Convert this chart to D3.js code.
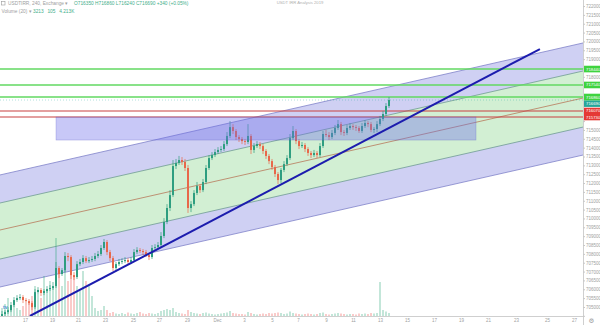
<!DOCTYPE html>
<html>
<head>
<meta charset="utf-8">
<script src="https://cdn.jsdelivr.net/npm/d3@7"></script>
<style>
body { margin: 0; background: #fff; overflow: hidden; }
svg { display: block; font-family: "Liberation Sans", Arial, sans-serif; }
</style>
</head>
<body>
<div id="chart"></div>
<script>
// candle data (4h bars)
var firstOpen = 704490;
var closes = [
    704600, 704710, 704820, 705110, 705390, 705500, 705560, 705390, 705330, 705220,
    704990, 705840, 705960, 705790, 705900, 706010, 706070, 706180, 707200, 706860,
    707080, 707880, 707820, 706800, 706690, 707420, 707540, 707760, 707590, 707650,
    707710, 707880, 707990, 708330, 708670, 708100, 707760, 707200, 707420, 707540,
    707590, 707650, 707540, 707650, 708100, 708220, 708160, 708100, 707930, 707820,
    708330, 708380, 708500, 709010, 709800, 710590, 711320, 712960, 713130, 713300,
    713190, 712850, 710590, 710810, 711440, 711830, 711600, 712060, 712850, 713410,
    713580, 713750, 713870, 713920, 714200, 714660, 715160, 714940, 714600, 714490,
    714370, 714320, 714660, 713870, 714090, 714200, 714090, 713810, 713530, 713240,
    712900, 712510, 712170, 712740, 713070, 713410, 714540, 714940, 714370, 714090,
    714150, 713920, 713700, 713580, 713700, 713580, 714090, 714770, 714710, 714600,
    714830, 715110, 715330, 714880, 714830, 715110, 715220, 715160, 715110, 714940,
    715220, 715390, 715330, 715000, 715050, 715330, 715620, 715900, 716350, 716690
];
var highs = [
    704770, 704820, 704990, 705280, 705560, 705670, 705730, 705670, 705500, 705450,
    705330, 706010, 706120, 706070, 706010, 706180, 706240, 706410, 707540, 707310,
    707200, 708100, 708050, 707930, 706970, 707590, 707710, 707930, 707880, 707820,
    707880, 708050, 708160, 708500, 708840, 708780, 708220, 707880, 707540, 707710,
    707760, 707820, 707760, 707820, 708270, 708380, 708330, 708270, 708220, 708050,
    708500, 708550, 708670, 709230, 710020, 710810, 711600, 713300, 713360, 713530,
    713470, 713360, 713020, 710980, 711600, 712060, 711940, 712230, 713020, 713580,
    713750, 713920, 714030, 714090, 714370, 714880, 715500, 715330, 715050, 714710,
    714600, 714490, 715330, 714770, 714260, 714370, 714320, 714200, 713920, 713640,
    713360, 713020, 712620, 712850, 713240, 713580, 714770, 715220, 715050, 714490,
    714320, 714260, 714030, 713810, 713870, 713810, 714260, 714940, 715000, 714880,
    715000, 715280, 715560, 715450, 715000, 715280, 715390, 715330, 715280, 715220,
    715390, 715560, 715500, 715450, 715160, 715500, 715790, 716070, 716520, 716860
];
var lows = [
    704370, 704490, 704600, 704710, 704990, 705280, 705390, 705220, 705160, 705110,
    704820, 704880, 705730, 705620, 705670, 705790, 705900, 705960, 706070, 706630,
    706750, 706970, 707590, 706580, 706520, 706580, 707310, 707420, 707480, 707480,
    707540, 707590, 707760, 707880, 708220, 707930, 707590, 707030, 707080, 707310,
    707420, 707480, 707420, 707420, 707540, 707990, 708050, 707930, 707820, 707650,
    707710, 708220, 708270, 708380, 708890, 709680, 710420, 711210, 712790, 713020,
    713020, 712680, 710310, 710360, 710700, 711320, 711440, 711490, 711940, 712740,
    713300, 713470, 713640, 713750, 713810, 714090, 714540, 714770, 714430, 714320,
    714200, 714150, 714200, 713640, 713700, 713980, 713920, 713640, 713360, 713070,
    712740, 712340, 711940, 712000, 712620, 712960, 713300, 714430, 714200, 713920,
    713980, 713750, 713530, 713410, 713470, 713410, 713470, 713980, 714600, 714430,
    714490, 714710, 715000, 714710, 714660, 714710, 715000, 715000, 714940, 714830,
    714830, 715110, 715160, 714880, 714830, 714880, 715220, 715500, 715790, 716240
];
var volumes = [
    80, 120, 180, 100, 150, 80, 60, 100, 120, 140,
    200, 300, 220, 180, 400, 250, 350, 280, 780, 450,
    300, 500, 350, 550, 400, 300, 250, 450, 350, 300,
    200, 80, 50, 60, 100, 60, 30, 40, 25, 20,
    30, 20, 35, 25, 20, 30, 40, 25, 20, 30,
    25, 20, 30, 50, 60, 70, 60, 80, 40, 30,
    25, 20, 60, 40, 30, 25, 20, 30, 35, 25,
    20, 15, 20, 25, 30, 35, 50, 30, 25, 20,
    20, 15, 40, 30, 20, 15, 20, 25, 20, 30,
    25, 30, 35, 30, 20, 25, 45, 30, 25, 20,
    15, 20, 25, 20, 15, 20, 30, 35, 20, 15,
    20, 25, 30, 25, 20, 15, 20, 20, 15, 25,
    20, 25, 20, 30, 25, 30, 340, 60, 45, 30
];

// drawings
var greenLevels = [718440, 717540, 716860];
var redLevels = [716070, 715730];
var zoneIdx = [18, 158];
var zonePrice = [715730, 714430];
var channelIdx = [-1, 194];
var channelMid = [709335, 716815];
var channelOffsets = [3110, 1525, 0, -1640, -3220];
var trendIdx = [9.3, 179.3];
var trendPrice = [704490, 719570];

// axes
var priceTicks = [];
for (var p = 704500; p <= 722000; p += 500) priceTicks.push(p);
var timeIdx = [7.7, 16.7, 25.3, 34.3, 43.7, 52.3, 61.7, 71.7, 80.7, 90, 98.7,
               108, 117, 126, 135, 144, 153, 162, 171.3, 181.7, 190.7];
var timeLabels = ["17", "19", "21", "23", "25", "27", "29", "Dec", "3", "5", "7",
                  "9", "11", "13", "15", "17", "19", "21", "23", "25", "27"];

var width = 600, height = 325;
var plotW = 583, plotH = 316;

var svg = d3.select("#chart").append("svg")
    .attr("width", width)
    .attr("height", height);

svg.append("clipPath").attr("id", "plot")
    .append("rect").attr("width", plotW).attr("height", plotH);

var x = d3.scaleLinear().domain([0, closes.length - 1]).range([2, 389]);
var y = d3.scaleLinear().domain([704490, 722340]).range([plotH, 0]);
var vh = d3.scaleLinear().domain([0, 800]).range([0, 80]);

var candles = closes.map(function (c, i) {
    return { i: i, o: i === 0 ? firstOpen : closes[i - 1], h: highs[i], l: lows[i], c: c, v: volumes[i] };
});

var plot = svg.append("g").attr("clip-path", "url(#plot)");

// regression channel bands
function chPoint(k, off) { return [x(channelIdx[k]), y(channelMid[k] + off)]; }
var bands = [
    [0, 1, "rgba(95,98,215,0.3)"],
    [1, 3, "rgba(76,190,80,0.25)"],
    [3, 4, "rgba(95,98,215,0.3)"]
];
plot.selectAll(".band")
    .data(bands)
    .enter()
    .append("path")
    .attr("d", function (b) {
        var a = channelOffsets[b[0]], c = channelOffsets[b[1]];
        return "M" + [chPoint(0, a), chPoint(1, a), chPoint(1, c), chPoint(0, c)].join("L") + "Z";
    })
    .style("fill", function (b) { return b[2]; });

var lineColors = ["#7f82c9", "#6f9c92", "#b8785a", "#6f9c92", "#7f82c9"];
plot.selectAll(".chline")
    .data(channelOffsets)
    .enter()
    .append("line")
    .attr("x1", function (d) { return chPoint(0, d)[0]; })
    .attr("y1", function (d) { return chPoint(0, d)[1]; })
    .attr("x2", function (d) { return chPoint(1, d)[0]; })
    .attr("y2", function (d) { return chPoint(1, d)[1]; })
    .style("stroke", function (d, i) { return lineColors[i]; })
    .style("stroke-width", 0.8);

// horizontal levels
plot.selectAll(".glevel")
    .data(greenLevels)
    .enter()
    .append("line")
    .attr("x1", 0).attr("x2", plotW)
    .attr("y1", function (d) { return y(d); })
    .attr("y2", function (d) { return y(d); })
    .style("stroke", "#62d862")
    .style("stroke-width", 1.4);

plot.selectAll(".rlevel")
    .data(redLevels)
    .enter()
    .append("line")
    .attr("x1", 0).attr("x2", plotW)
    .attr("y1", function (d) { return y(d); })
    .attr("y2", function (d) { return y(d); })
    .style("stroke", "#c84040")
    .style("stroke-width", 1.1);

var last = candles[candles.length - 1];
plot.append("line")
    .attr("x1", 0).attr("x2", plotW)
    .attr("y1", y(last.c)).attr("y2", y(last.c))
    .style("stroke", "#26a69a")
    .style("stroke-opacity", 0.5)
    .style("stroke-dasharray", "1,2")
    .style("stroke-width", 0.7);

// volume
var up = "#2e9e80", down = "#e8684a";
plot.selectAll(".vol")
    .data(candles)
    .enter()
    .append("rect")
    .attr("x", function (d) { return x(d.i) - 1; })
    .attr("width", 2)
    .attr("y", function (d) { return plotH - vh(d.v); })
    .attr("height", function (d) { return vh(d.v); })
    .style("fill", function (d) { return d.c >= d.o ? "rgba(38,166,120,0.28)" : "rgba(239,83,80,0.3)"; });

// candles
plot.selectAll(".wick")
    .data(candles)
    .enter()
    .append("line")
    .attr("x1", function (d) { return x(d.i); })
    .attr("x2", function (d) { return x(d.i); })
    .attr("y1", function (d) { return y(d.h); })
    .attr("y2", function (d) { return y(d.l); })
    .style("stroke", function (d) { return d.c >= d.o ? up : down; })
    .style("stroke-width", 0.7);

plot.selectAll(".body")
    .data(candles)
    .enter()
    .append("rect")
    .attr("x", function (d) { return x(d.i) - 1; })
    .attr("width", 2)
    .attr("y", function (d) { return y(Math.max(d.o, d.c)); })
    .attr("height", function (d) { return Math.max(0.8, Math.abs(y(d.o) - y(d.c))); })
    .style("fill", function (d) { return d.c >= d.o ? up : down; });

// zone rectangle
plot.append("rect")
    .attr("x", x(zoneIdx[0]))
    .attr("y", y(zonePrice[0]))
    .attr("width", x(zoneIdx[1]) - x(zoneIdx[0]))
    .attr("height", y(zonePrice[1]) - y(zonePrice[0]))
    .style("fill", "rgba(110,110,235,0.38)")
    .style("stroke", "rgba(90,90,200,0.5)")
    .style("stroke-width", 0.5);

// trend line
plot.append("line")
    .attr("x1", x(trendIdx[0])).attr("y1", y(trendPrice[0]))
    .attr("x2", x(trendIdx[1])).attr("y2", y(trendPrice[1]))
    .style("stroke", "#1c1cae")
    .style("stroke-width", 2);

// tv logo
svg.append("text")
    .attr("x", 3).attr("y", 309)
    .style("font-size", "5px").style("font-weight", "bold")
    .style("fill", "#4a8fd8")
    .text("tv");

// price axis
svg.append("rect")
    .attr("x", plotW).attr("width", width - plotW).attr("height", height)
    .style("fill", "#fff");
svg.append("line")
    .attr("x1", plotW + 0.5).attr("x2", plotW + 0.5)
    .attr("y1", 0).attr("y2", height)
    .style("stroke", "#cfcfcf").style("stroke-width", 1);

// label boxes; the last-price box is nudged below the green one it would hide
var boxes = [
    { p: last.c, col: "#26a69a", dy: 3.6 }
].concat(greenLevels.map(function (p) { return { p: p, col: "#3fd33f", dy: 0 }; }))
 .concat(redLevels.map(function (p) { return { p: p, col: "#e53935", dy: 0 }; }));

var yAxis = d3.axisRight(y)
    .tickValues(priceTicks)
    .tickSize(2)
    .tickPadding(1)
    .tickFormat(d3.format("d"));

var ay = svg.append("g")
    .attr("transform", "translate(" + plotW + ",0)")
    .call(yAxis);
ay.select(".domain").remove();
ay.selectAll("line").style("stroke", "#c8c8c8");
ay.selectAll("text")
    .style("font-size", "4.5px")
    .style("fill", "#a0a0a0")
    .style("font-family", "'Liberation Sans', Arial, sans-serif")
    .style("display", function (d) {
        var hide = y(d) > 311 || boxes.some(function (b) { return Math.abs(y(b.p) + b.dy - y(d)) < 5.5; });
        return hide ? "none" : null;
    });

var bx = svg.selectAll(".pbox")
    .data(boxes)
    .enter()
    .append("g")
    .attr("transform", function (d) { return "translate(" + (plotW + 1) + "," + (y(d.p) + d.dy) + ")"; });
bx.append("rect")
    .attr("x", 0).attr("y", -3.3)
    .attr("width", width - plotW - 1).attr("height", 6.6)
    .style("fill", function (d) { return d.col; });
bx.append("text")
    .attr("x", 2).attr("y", 1.5)
    .style("font-size", "4.3px")
    .style("fill", "#fff")
    .text(function (d) { return d3.format("d")(d.p); });

// time axis
svg.append("line")
    .attr("x1", 0).attr("x2", plotW)
    .attr("y1", plotH + 0.5).attr("y2", plotH + 0.5)
    .style("stroke", "#cfcfcf");

var xAxis = d3.axisBottom(x)
    .tickValues(timeIdx)
    .tickSize(0)
    .tickPadding(3)
    .tickFormat(function (d, i) { return timeLabels[i]; });

var ax = svg.append("g")
    .attr("transform", "translate(0," + plotH + ")")
    .call(xAxis);
ax.select(".domain").remove();
ax.selectAll("text")
    .style("font-size", "4.5px")
    .style("fill", "#a0a0a0")
    .style("font-family", "'Liberation Sans', Arial, sans-serif");

svg.append("text")
    .attr("x", 591.5).attr("y", 323)
    .attr("text-anchor", "middle")
    .style("font-size", "6.5px")
    .style("fill", "#9a9a9a")
    .style("font-family", "DejaVu Sans")
    .text("\u2699");

// header
var head = svg.append("g").style("font-size", "4.8px");
head.append("rect")
    .attr("x", 1.5).attr("y", 1.5).attr("width", 3.5).attr("height", 3.5)
    .style("fill", "none").style("stroke", "#9a9a9a").style("stroke-width", 0.6);
head.append("text")
    .attr("x", 8).attr("y", 5)
    .style("fill", "#a0a0a0")
    .text("USDTIRR, 240, Exchange \u25BE");
head.append("text")
    .attr("x", 74).attr("y", 5)
    .style("fill", "#3fae8a")
    .text("O" + last.o + "  H" + last.h + "  L" + last.l + "  C" + last.c + "  +340 (+0.05%)");
head.append("text")
    .attr("x", 1.5).attr("y", 13)
    .style("fill", "#a0a0a0")
    .text("Volume (20) \u25BE");
head.append("text")
    .attr("x", 33).attr("y", 13)
    .style("fill", "#3fae8a")
    .text("3213\u2002 105\u2002 4.213K");
svg.append("text")
    .attr("x", 300).attr("y", 4)
    .attr("text-anchor", "middle")
    .style("font-size", "4.2px")
    .style("fill", "#b0b0b0")
    .text("USDT IRR Analysis 2019");
</script>
</body>
</html>
